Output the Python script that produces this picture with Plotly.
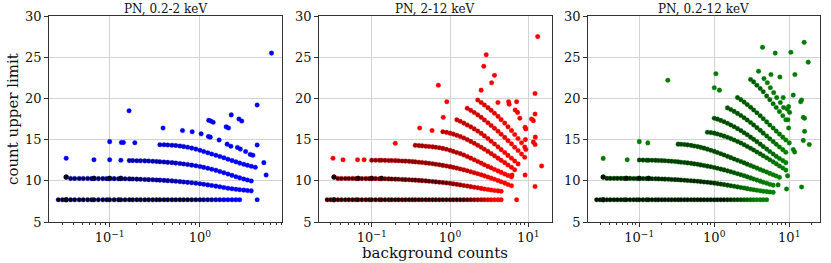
import plotly.graph_objects as go

# ---------------- data ----------------
bkg_grid = [0.027, 0.030, 0.033, 0.037, 0.041, 0.046, 0.051, 0.057, 0.063, 0.067,
            0.075, 0.084, 0.093, 0.100, 0.112, 0.125, 0.133, 0.148, 0.165, 0.18,
            0.20, 0.22, 0.245, 0.27, 0.30, 0.33, 0.36, 0.40, 0.44, 0.49,
            0.54, 0.60, 0.66, 0.73, 0.81, 0.90, 1.0, 1.1, 1.22, 1.35,
            1.5, 1.66, 1.84, 2.04, 2.26, 2.5, 2.75, 3.05, 3.35, 3.7,
            4.1, 4.5, 5.0, 5.5, 6.1, 6.7, 7.4, 8.2, 9.0, 10.0, 11.0]

panel_titles = ["PN, 0.2-2 keV", "PN, 2-12 keV", "PN, 0.2-12 keV"]

# ---- panel 1 (0.2-2 keV) bands: start index in bkg_grid + upper limits ----
p1_A_start = 0
p1_A_y = [7.7, 7.7, 7.7, 7.7, 7.7, 7.7, 7.7, 7.7, 7.7, 7.7,
          7.7, 7.7, 7.7, 7.7, 7.7, 7.7, 7.7, 7.7, 7.7, 7.7,
          7.7, 7.7, 7.7, 7.7, 7.7, 7.7, 7.7, 7.7, 7.7, 7.7,
          7.7, 7.7, 7.7, 7.7, 7.7, 7.7, 7.7, 7.7, 7.7, 7.7,
          7.7, 7.7, 7.7, 7.7, 7.7, 7.7, 7.7]
p1_B_start = 2
p1_B_y = [10.45, 10.28, 10.28, 10.28, 10.28, 10.28, 10.27, 10.27, 10.27, 10.27,
          10.26, 10.26, 10.26, 10.25, 10.25, 10.24, 10.23, 10.22, 10.2, 10.18,
          10.16, 10.14, 10.12, 10.1, 10.08, 10.05, 10.02, 9.99, 9.95, 9.9,
          9.86, 9.81, 9.76, 9.71, 9.65, 9.58, 9.5, 9.43, 9.35, 9.27,
          9.18, 9.1, 9.03, 8.97, 8.92, 8.87, 8.82, 8.78]
p1_C_start = 18
p1_C_y = [12.45, 12.45, 12.44, 12.43, 12.42, 12.4, 12.38, 12.35, 12.32, 12.28,
          12.24, 12.2, 12.15, 12.1, 12.04, 11.97, 11.9, 11.82, 11.73, 11.63,
          11.52, 11.4, 11.27, 11.13, 10.98, 10.82, 10.66, 10.5, 10.36, 10.22,
          10.1, 9.98]
p1_D_start = 26
p1_D_y = [14.38, 14.37, 14.35, 14.32, 14.28, 14.22, 14.15, 14.07, 13.97, 13.85,
          13.7, 13.55, 13.4, 13.25, 13.1, 12.95, 12.8, 12.62, 12.45, 12.3,
          12.15, 12.0, 11.88, 11.76, 11.65]
p1_pts_x = [0.033, 0.067, 0.100, 0.133, 0.100, 0.135, 0.142, 0.19, 0.164,
            0.39, 0.64, 0.82, 1.03, 1.24, 1.30, 1.63, 2.0, 2.2, 2.6, 2.8, 3.2, 3.6, 3.85,
            1.25, 1.32, 1.40, 1.95, 2.07, 2.22, 2.7, 2.9,
            4.3, 6.2, 4.3, 5.1, 5.4, 4.3]
p1_pts_y = [12.73, 12.55, 12.55, 12.5, 14.75, 14.65, 14.65, 14.62, 18.5,
            16.4, 16.1, 15.95, 15.7, 15.38, 15.3, 14.95, 14.45, 14.2, 14.05, 13.85, 13.55, 13.2, 13.1,
            17.35, 17.25, 17.1, 16.55, 16.4, 18.0, 17.5, 17.25,
            19.2, 25.5, 14.35, 12.2, 10.7, 7.7]
p1_spots_x = [0.033, 0.067, 0.100, 0.133, 0.033]
p1_spots_y = [10.45, 10.3, 10.3, 10.3, 7.7]

# ---- panel 2 (2-12 keV) ----
p2_A_start = 0
p2_A_y = [7.7, 7.7, 7.7, 7.7, 7.7, 7.7, 7.7, 7.7, 7.7, 7.7,
          7.7, 7.7, 7.7, 7.7, 7.7, 7.7, 7.7, 7.7, 7.7, 7.7,
          7.7, 7.7, 7.7, 7.7, 7.7, 7.7, 7.7, 7.7, 7.7, 7.7,
          7.7, 7.7, 7.7, 7.7, 7.7, 7.7, 7.7, 7.7, 7.7, 7.7,
          7.7, 7.7, 7.7, 7.7, 7.7, 7.7, 7.7, 7.7, 7.7, 7.7,
          7.7, 7.7]
p2_B_start = 2
p2_B_y = [10.45, 10.28, 10.28, 10.28, 10.28, 10.28, 10.27, 10.27, 10.27, 10.27,
          10.26, 10.26, 10.26, 10.25, 10.25, 10.24, 10.23, 10.22, 10.2, 10.18,
          10.16, 10.14, 10.12, 10.1, 10.08, 10.05, 10.02, 9.99, 9.95, 9.91,
          9.87, 9.83, 9.79, 9.74, 9.69, 9.63, 9.57, 9.5, 9.43, 9.36,
          9.29, 9.22, 9.15, 9.08, 9.01, 8.95, 8.89, 8.83, 8.78, 8.74]
p2_C_start = 13
p2_C_y = [12.5, 12.5, 12.49, 12.49, 12.48, 12.47, 12.46, 12.45, 12.43, 12.41,
          12.39, 12.36, 12.33, 12.3, 12.26, 12.22, 12.17, 12.12, 12.07, 12.01,
          11.94, 11.87, 11.8, 11.72, 11.63, 11.54, 11.44, 11.33, 11.22, 11.1,
          10.98, 10.86, 10.73, 10.6, 10.46, 10.32, 10.18, 10.03, 9.88, 9.72,
          9.56, 9.4]
p2_D_start = 26
p2_D_y = [14.3, 14.27, 14.24, 14.2, 14.16, 14.12, 14.07, 14.02, 13.93, 13.82,
          13.7, 13.57, 13.43, 13.3, 13.13, 12.95, 12.75, 12.55, 12.35, 12.15,
          11.95, 11.75, 11.57, 11.38, 11.2, 11.02, 10.83, 10.65, 10.48]
p2_E_start = 34
p2_E_y = [15.95, 15.88, 15.78, 15.67, 15.53, 15.38, 15.2, 15.0, 14.78, 14.55,
          14.32, 14.08, 13.83, 13.57, 13.3, 13.03, 12.75, 12.48, 12.2, 11.92,
          11.63, 11.35]
p2_F_start = 38
p2_F_y = [17.4, 17.22, 17.0, 16.78, 16.55, 16.3, 16.03, 15.75, 15.45, 15.13,
          14.8, 14.46, 14.12, 13.78, 13.43, 13.08, 12.73, 12.4, 12.05]
p2_G_start = 41
p2_G_y = [18.8, 18.55, 18.28, 18.0, 17.7, 17.38, 17.05, 16.72, 16.38, 16.02,
          15.65, 15.27, 14.88, 14.48, 14.08, 13.67, 13.25, 12.85]
p2_H_start = 44
p2_H_y = [19.8, 19.5, 19.2, 18.88, 18.55, 18.2, 17.82, 17.42, 17.0, 16.55,
          16.1, 15.62, 15.13, 14.62, 14.1]
p2_pts_x = [0.032, 0.043, 0.066, 0.08, 0.2, 0.41, 0.59, 0.71, 0.82, 0.91,
            2.9, 2.7, 3.7, 3.4, 2.5,
            4.1, 5.6, 5.7, 7.1, 6.8, 7.3, 7.8, 9.1, 9.3, 9.2, 9.3, 9.1, 7.1, 6.2,
            12.2, 12.2, 11.0, 11.6, 12.3, 11.6, 12.2, 12.2, 14.8, 13.2]
p2_pts_y = [12.73, 12.55, 12.55, 12.55, 14.55, 16.4, 16.1, 21.6, 17.7, 19.6,
            25.3, 23.9, 22.8, 21.9, 21.0,
            19.5, 19.6, 19.3, 19.6, 18.6, 18.3, 17.6, 16.5, 16.3, 15.0, 13.8, 10.7, 7.7, 10.7,
            20.6, 18.1, 17.5, 17.3, 15.3, 14.7, 14.4, 9.3, 11.8, 27.5]
p2_spots_x = [0.033, 0.067, 0.100, 0.133, 0.033]
p2_spots_y = [10.45, 10.3, 10.3, 10.3, 7.7]

# ---- panel 3 (0.2-12 keV) ----
p3_A_start = 0
p3_A_y = [7.7, 7.7, 7.7, 7.7, 7.7, 7.7, 7.7, 7.7, 7.7, 7.7,
          7.7, 7.7, 7.7, 7.7, 7.7, 7.7, 7.7, 7.7, 7.7, 7.7,
          7.7, 7.7, 7.7, 7.7, 7.7, 7.7, 7.7, 7.7, 7.7, 7.7,
          7.7, 7.7, 7.7, 7.7, 7.7, 7.7, 7.7, 7.7, 7.7, 7.7,
          7.7, 7.7, 7.7, 7.7, 7.7, 7.7, 7.7, 7.7, 7.7, 7.7,
          7.7, 7.7, 7.7]
p3_B_start = 2
p3_B_y = [10.45, 10.3, 10.3, 10.3, 10.3, 10.3, 10.29, 10.29, 10.29, 10.28,
          10.28, 10.28, 10.27, 10.27, 10.26, 10.25, 10.24, 10.23, 10.22, 10.2,
          10.18, 10.16, 10.14, 10.12, 10.1, 10.07, 10.04, 10.01, 9.98, 9.94,
          9.9, 9.86, 9.82, 9.77, 9.72, 9.66, 9.6, 9.54, 9.47, 9.4,
          9.33, 9.26, 9.19, 9.12, 9.05, 8.98, 8.92, 8.86, 8.8, 8.74,
          8.69, 8.64, 8.6]
p3_C_start = 13
p3_C_y = [12.52, 12.51, 12.5, 12.5, 12.49, 12.48, 12.47, 12.45, 12.43, 12.4,
          12.37, 12.34, 12.3, 12.26, 12.22, 12.17, 12.12, 12.06, 12.0, 11.93,
          11.86, 11.78, 11.7, 11.61, 11.52, 11.42, 11.32, 11.21, 11.1, 10.98,
          10.86, 10.74, 10.61, 10.48, 10.35, 10.22, 10.09, 9.96, 9.83, 9.7,
          9.58, 9.47]
p3_D_start = 25
p3_D_y = [14.45, 14.43, 14.4, 14.36, 14.3, 14.22, 14.15, 14.06, 13.96, 13.84,
          13.71, 13.57, 13.43, 13.28, 13.13, 12.97, 12.81, 12.65, 12.5, 12.35,
          12.18, 12.02, 11.86, 11.7, 11.54, 11.38, 11.22, 11.06, 10.9, 10.74,
          10.58, 10.42]
p3_E_start = 34
p3_E_y = [15.9, 15.85, 15.78, 15.68, 15.55, 15.42, 15.28, 15.12, 14.95, 14.77,
          14.58, 14.38, 14.17, 13.95, 13.73, 13.5, 13.27, 13.03, 12.79, 12.55,
          12.3, 12.06, 11.8, 11.55, 11.3]
p3_F_start = 36
p3_F_y = [17.6, 17.48, 17.33, 17.17, 16.98, 16.78, 16.56, 16.33, 16.09, 15.84,
          15.58, 15.3, 15.03, 14.75, 14.45, 14.15, 13.85, 13.55, 13.25, 12.97,
          12.7, 12.45, 12.2]
p3_G_start = 40
p3_G_y = [18.85, 18.65, 18.42, 18.18, 17.92, 17.65, 17.37, 17.07, 16.77, 16.45,
          16.12, 15.78, 15.44, 15.1, 14.76, 14.43, 14.1, 13.78, 13.47]
p3_H_start = 43
p3_H_y = [20.1, 19.85, 19.55, 19.25, 18.93, 18.6, 18.25, 17.9, 17.53, 17.15,
          16.77, 16.4, 16.03, 15.67, 15.3, 14.95, 14.6]
p3_I_start = 47
p3_I_y = [22.3, 22.0, 21.6, 21.2, 20.8, 20.3, 19.85, 19.35, 18.9, 18.4,
          17.9, 17.4]
p3_pts_x = [0.033, 0.069, 0.100, 0.13, 0.24, 1.0, 1.05, 1.17,
            4.4, 6.5, 10.5, 15.8, 17.9, 3.9, 5.7, 7.5, 11.9, 11.3, 8.3,
            14.6, 14.2, 9.8, 9.4, 10.1, 9.6, 9.8, 15.4, 16.0, 16.0, 15.4, 18.5,
            11.3, 11.8, 9.2, 14.6, 7.1, 9.5,
            4.6, 5.1, 5.6, 6.2, 6.8, 7.6, 8.4]
p3_pts_y = [12.72, 12.55, 14.75, 14.6, 22.2, 21.3, 23.0, 21.0,
            26.2, 25.5, 25.6, 26.8, 24.4, 23.3, 22.9, 22.6, 22.9, 20.4, 20.1,
            19.8, 19.6, 19.0, 18.7, 18.3, 17.4, 16.4, 17.7, 17.6, 16.0, 14.9, 14.4,
            13.8, 13.5, 9.0, 9.25, 9.5, 10.6,
            22.4, 21.9, 21.3, 20.7, 20.1, 19.5, 18.9]
p3_spots_x = [0.033, 0.067, 0.100, 0.133, 0.033]
p3_spots_y = [10.45, 10.3, 10.3, 10.3, 7.7]

# ---------------- styling helpers ----------------
base_rgb = [(0, 0, 255), (255, 0, 0), (0, 128, 0)]
MSIZE = 4.6


def mix(rgb, d):
    r, g, b = rgb
    return "rgb(%d,%d,%d)" % (r * (1 - d), g * (1 - d), b * (1 - d))


def shades(n, dmax, dark_n, fade_n):
    out = []
    for i in range(n):
        if i < dark_n:
            d = dmax
        else:
            d = max(0.0, dmax * (1 - (i - dark_n + 1) / (fade_n + 1)))
        out.append(d)
    return out


fig = go.Figure()

panels = [
    dict(bands=[(p1_A_start, p1_A_y, 0.93, 35, 9), (p1_B_start, p1_B_y, 0.7, 18, 22),
                (p1_C_start, p1_C_y, 0.35, 10, 14), (p1_D_start, p1_D_y, 0.2, 4, 12)],
         px=p1_pts_x, py=p1_pts_y, sx=p1_spots_x, sy=p1_spots_y),
    dict(bands=[(p2_A_start, p2_A_y, 0.93, 40, 9), (p2_B_start, p2_B_y, 0.75, 32, 14),
                (p2_C_start, p2_C_y, 0.5, 22, 14), (p2_D_start, p2_D_y, 0.4, 12, 14),
                (p2_E_start, p2_E_y, 0.3, 8, 12), (p2_F_start, p2_F_y, 0.25, 6, 10),
                (p2_G_start, p2_G_y, 0.2, 5, 10), (p2_H_start, p2_H_y, 0.15, 4, 8)],
         px=p2_pts_x, py=p2_pts_y, sx=p2_spots_x, sy=p2_spots_y),
    dict(bands=[(p3_A_start, p3_A_y, 0.93, 40, 9), (p3_B_start, p3_B_y, 0.75, 34, 14),
                (p3_C_start, p3_C_y, 0.55, 26, 14), (p3_D_start, p3_D_y, 0.5, 18, 12),
                (p3_E_start, p3_E_y, 0.45, 14, 10), (p3_F_start, p3_F_y, 0.45, 12, 10),
                (p3_G_start, p3_G_y, 0.4, 10, 8), (p3_H_start, p3_H_y, 0.35, 8, 8),
                (p3_I_start, p3_I_y, 0.3, 5, 6)],
         px=p3_pts_x, py=p3_pts_y, sx=p3_spots_x, sy=p3_spots_y),
]

for k, p in enumerate(panels):
    xa = "x" if k == 0 else "x%d" % (k + 1)
    ya = "y" if k == 0 else "y%d" % (k + 1)
    rgb = base_rgb[k]
    edge = "rgba(%d,%d,%d,0.4)" % rgb
    for (s, yv, dmax, dn, fn) in p["bands"]:
        xv = bkg_grid[s:s + len(yv)]
        cols = [mix(rgb, d) for d in shades(len(xv), dmax, dn, fn)]
        fig.add_trace(go.Scatter(x=xv, y=yv[:len(xv)], mode="markers", xaxis=xa, yaxis=ya,
                                 marker=dict(size=MSIZE, color=cols,
                                             line=dict(color=edge, width=0.8)),
                                 showlegend=False, hoverinfo="x+y"))
    fig.add_trace(go.Scatter(x=p["px"], y=p["py"], mode="markers", xaxis=xa, yaxis=ya,
                             marker=dict(size=MSIZE, color=mix(rgb, 0.05),
                                         line=dict(color=edge, width=0.8)),
                             showlegend=False, hoverinfo="x+y"))
    fig.add_trace(go.Scatter(x=p["sx"], y=p["sy"], mode="markers", xaxis=xa, yaxis=ya,
                             marker=dict(size=MSIZE + 0.4, color="rgb(10,10,10)",
                                         line=dict(color=edge, width=0.6)),
                             showlegend=False, hoverinfo="x+y"))

W, H = 831, 263


def fx(px):
    return px / W


def fy(py):
    return 1 - py / H


x_doms = [(48.7, 281.7), (318.7, 551.7), (587.7, 820.0)]
x_ranges = [(-1.675, 0.905), (-1.677, 1.299), (-1.688, 1.41)]
y_dom = [fy(222), fy(16)]

minor_vals = [m * 10.0 ** e for e in (-2, -1, 0, 1) for m in range(2, 10)]
font_family = "DejaVu Serif"
grid_col = "#d3d3d3"
axis_col = "#333333"

layout = dict(width=W, height=H,
              margin=dict(l=0, r=0, t=0, b=0, pad=0, autoexpand=False),
              paper_bgcolor="white", plot_bgcolor="white",
              font=dict(family=font_family, size=13, color="#111111"))

for k in range(3):
    xname = "xaxis" if k == 0 else "xaxis%d" % (k + 1)
    yname = "yaxis" if k == 0 else "yaxis%d" % (k + 1)
    yref = "y" if k == 0 else "y%d" % (k + 1)
    xref = "x" if k == 0 else "x%d" % (k + 1)
    layout[xname] = dict(domain=[fx(x_doms[k][0]), fx(x_doms[k][1])], anchor=yref,
                         type="log", range=list(x_ranges[k]), automargin=False,
                         tickmode="array", tickvals=[0.1, 1, 10],
                         ticktext=["10<sup>−1</sup>", "10<sup>0</sup>", "10<sup>1</sup>"],
                         showgrid=True, gridcolor=grid_col, gridwidth=1,
                         showline=True, linecolor=axis_col, linewidth=1, mirror=True,
                         ticks="outside", ticklen=3.5, tickcolor=axis_col,
                         tickfont=dict(size=13, family=font_family),
                         minor=dict(tickmode="array", tickvals=minor_vals, ticks="outside",
                                    ticklen=2, tickcolor=axis_col, showgrid=False),
                         zeroline=False)
    layout[yname] = dict(domain=y_dom, anchor=xref, range=[5, 30], automargin=False,
                         tickmode="array", tickvals=[5, 10, 15, 20, 25, 30],
                         showgrid=True, gridcolor=grid_col, gridwidth=1,
                         showline=True, linecolor=axis_col, linewidth=1, mirror=True,
                         ticks="outside", ticklen=3.5, tickcolor=axis_col,
                         tickfont=dict(size=13, family=font_family), zeroline=False)

annotations = []
for k in range(3):
    annotations.append(dict(text=panel_titles[k], xref="paper", yref="paper",
                            x=fx((x_doms[k][0] + x_doms[k][1]) / 2), y=fy(8.5),
                            xanchor="center", yanchor="middle", showarrow=False,
                            font=dict(size=12, family=font_family, color="#111111")))
annotations.append(dict(text="count upper limit", xref="paper", yref="paper",
                        x=fx(13), y=fy(119), textangle=-90, xanchor="center",
                        yanchor="middle", showarrow=False,
                        font=dict(size=15, family=font_family, color="#111111")))
annotations.append(dict(text="background counts", xref="paper", yref="paper",
                        x=fx((x_doms[1][0] + x_doms[1][1]) / 2), y=fy(253),
                        xanchor="center", yanchor="middle", showarrow=False,
                        font=dict(size=15, family=font_family, color="#111111")))
layout["annotations"] = annotations

fig.update_layout(**layout)
# the browser's default 8px body margin would push the figure out of the window
fig.write_html("out.html",
               config={"displayModeBar": False},
               post_script="document.body.style.margin='0';document.body.style.overflow='hidden';")
